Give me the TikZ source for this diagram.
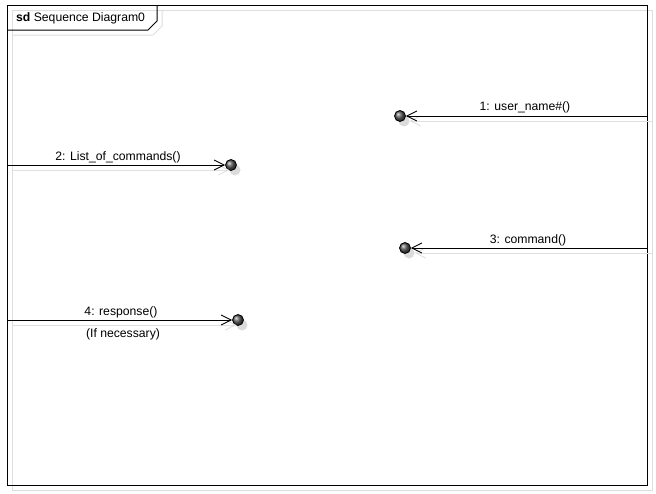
\documentclass[tikz,border=0pt]{standalone}
\usepackage{fontspec}
\setmainfont{Liberation Sans}
\usetikzlibrary{arrows.meta}
\begin{document}
\begin{tikzpicture}[x=1pt,y=-1pt,
  frameline/.style={black,line width=1pt},
  shadowline/.style={black!13,line width=1pt},
  msg/.style={black,line width=0.9pt,-{Straight Barb[length=10pt,width=10pt,line width=0.9pt]}},
  msgshadow/.style={black!12,line width=0.9pt,-{Straight Barb[length=10pt,width=10pt,line width=0.9pt]}},
  dot/.style={circle,minimum size=11pt,inner sep=0pt,shading=ball,ball color=black!65,draw=black,line width=0.8pt},
  dotshadow/.style={circle,minimum size=11pt,inner sep=0pt,fill=black!14},
  lbl/.style={font=\fontsize{12.2}{14}\selectfont,inner sep=0pt}]
\useasboundingbox (0,0) rectangle (656,493);
\fill[white] (0,0) rectangle (656,493);
% frame shadow and frame
\draw[shadowline] (12,10) rectangle (652,490);
\draw[shadowline] (162,10) -- (162,26) -- (153,35) -- (12,35);
\draw[frameline] (7,5) rectangle (647,485);
\draw[frameline] (157,5) -- (157,21) -- (148,30) -- (7,30);
\node[lbl,anchor=west] (title) at (16,18) {\textbf{sd} Sequence Diagram0};
% dot shadows
\node[dotshadow] (d1s) at (404,121) {};
\node[dotshadow] (d2s) at (235,170) {};
\node[dotshadow] (d3s) at (409,253) {};
\node[dotshadow] (d4s) at (242,325) {};
% dots
\node[dot] (d1) at (400,116) {};
\node[dot] (d2) at (231,165) {};
\node[dot] (d3) at (405,248) {};
\node[dot] (d4) at (238,320) {};
% message ends at frame
\coordinate (s1) at (647,116);
\coordinate (s2) at (7,165);
\coordinate (s3) at (647,248);
\coordinate (s4) at (7,320);
\coordinate (s1s) at (652,121);
\coordinate (s2s) at (12,170);
\coordinate (s3s) at (652,253);
\coordinate (s4s) at (12,325);
% shadow messages
\draw[msgshadow] (s1s) -- (d1s);
\draw[msgshadow] (s2s) -- (d2s);
\draw[msgshadow] (s3s) -- (d3s);
\draw[msgshadow] (s4s) -- (d4s);
% messages
\draw[msg] (s1) -- (d1);
\draw[msg] (s2) -- (d2);
\draw[msg] (s3) -- (d3);
\draw[msg] (s4) -- (d4);
% labels
\node[lbl] (l1) at (525,107) {1: user\_name\#()};
\node[lbl] (l2) at (118,157) {2: List\_of\_commands()};
\node[lbl] (l3) at (528,240) {3: command()};
\node[lbl] (l4) at (121,312) {4: response()};
\node[lbl] (l4b) at (123,334) {(If necessary)};
\end{tikzpicture}
\end{document}
